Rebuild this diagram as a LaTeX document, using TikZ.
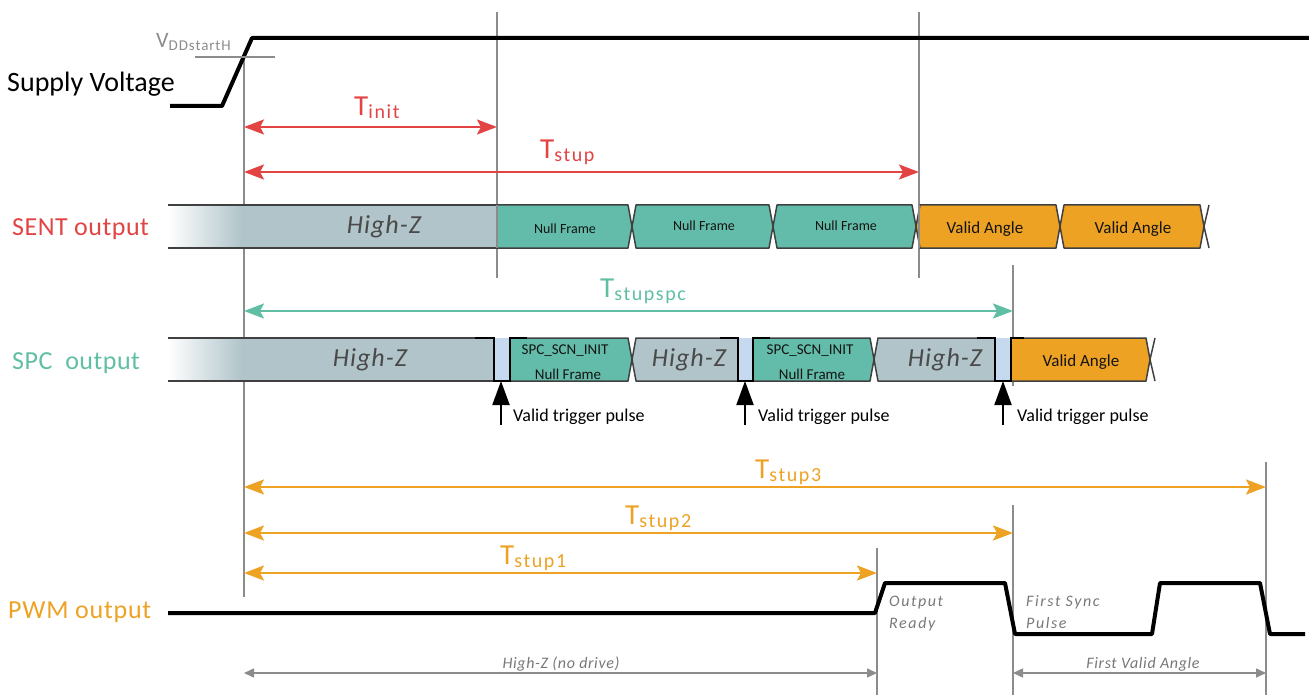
\documentclass[tikz,border=0pt]{standalone}
\usepackage{fontspec}
\setmainfont{Carlito}
\usetikzlibrary{arrows.meta}

\definecolor{tred}{RGB}{226,68,68}
\definecolor{tteal}{RGB}{96,190,165}
\definecolor{tgreen}{RGB}{99,188,169}
\definecolor{torange}{RGB}{237,162,36}
\definecolor{hzgray}{RGB}{176,196,202}
\definecolor{pulseblue}{RGB}{198,217,238}
\definecolor{edge}{RGB}{64,64,64}
\definecolor{guide}{RGB}{140,140,140}
\definecolor{note}{RGB}{120,120,120}
\definecolor{hztext}{RGB}{74,74,74}

\newcommand\fsz[1]{\fontsize{#1}{#1}\selectfont}
% T label with subscript
\newcommand\tlab[1]{{\fsz{29}T}\raisebox{-3pt}{\fsz{20}\addfontfeature{LetterSpace=8}#1}}

% bus segment, pointed on both ends: x1 x2 top bottom fill
\newcommand\segpp[5]{\filldraw[busedge,fill=#5] ({#1+4},#3) -- ({#2-4},#3) -- (#2,{(#3+#4)/2}) -- ({#2-4},#4) -- ({#1+4},#4) -- (#1,{(#3+#4)/2}) -- cycle;}
% bus segment, straight left end, pointed right end
\newcommand\segsp[5]{\filldraw[busedge,fill=#5] (#1,#3) -- ({#2-4},#3) -- (#2,{(#3+#4)/2}) -- ({#2-4},#4) -- (#1,#4) -- cycle;}
% high-Z segment, pointed left end, open right end
\newcommand\segpo[5]{\fill[#5] ({#1+4},#3) -- (#2,#3) -- (#2,#4) -- ({#1+4},#4) -- (#1,{(#3+#4)/2}) -- cycle;
  \draw[busedge] (#2,#3) -- ({#1+4},#3) -- (#1,{(#3+#4)/2}) -- ({#1+4},#4) -- (#2,#4);}

\tikzset{
  sig/.style={line width=4pt, line join=round, line cap=round, black},
  busedge/.style={draw=edge, line width=1.5pt, line join=round},
  guideline/.style={draw=guide, line width=1.5pt},
  redarrow/.style={draw=tred, line width=2.5pt, {Stealth[length=20pt,width=15pt,inset=4pt]}-{Stealth[length=20pt,width=15pt,inset=4pt]}},
  tealarrow/.style={redarrow, draw=tteal},
  orangearrow/.style={redarrow, draw=torange},
  grayarrow/.style={draw=guide, line width=1.5pt, {Triangle[length=10pt,width=9pt]}-{Triangle[length=10pt,width=9pt]}},
  trig/.style={draw=black, line width=2pt, -{Triangle[length=24pt,width=17pt]}},
  plabel/.style={anchor=base west, inner sep=0pt, font=\fsz{26}\addfontfeature{LetterSpace=2}},
  hz/.style={inner sep=0pt, font=\fsz{26}\itshape\addfontfeature{LetterSpace=4}, text=hztext},
  frame/.style={inner sep=0pt, font=\fsz{14}, text=black!92},
  angle/.style={inner sep=0pt, font=\fsz{17}, text=black!92},
  trigtext/.style={anchor=west, inner sep=0pt, font=\fsz{18}},
  notetext/.style={anchor=base west, inner sep=0pt, font=\fsz{16}\itshape\addfontfeature{LetterSpace=10}, text=note},
  spanlabel/.style={anchor=base, inner sep=0pt, font=\fsz{16}\itshape\addfontfeature{LetterSpace=4}, text=note},
}

\begin{document}
\begin{tikzpicture}[x=1pt, y=-1pt]
\useasboundingbox (0,0) rectangle (1309,695);

% ---------- time markers ----------
\draw[guideline] (244,57) -- (244,597);
\draw[guideline] (497,12) -- (497,278);
\draw[guideline] (919,12) -- (919,278);
\draw[guideline] (1013,265) -- (1013,386);
\draw[guideline] (1013,505) -- (1013,695);
\draw[guideline] (877,548) -- (877,695);
\draw[guideline] (1266,462) -- (1266,695);

% ---------- supply voltage ----------
\node[plabel, font=\fsz{28}] (supply) at (7,92) {Supply Voltage};
\draw[sig, line cap=butt] (170,106) -- (222,106) -- (252,38) -- (1309,38);
\draw[guideline] (195,57) -- (275,57);
\node[anchor=base west, inner sep=0pt, text=guide] (vdd) at (156,48)
  {{\fsz{22}V}\raisebox{-3pt}{\fsz{15}\addfontfeature{LetterSpace=6}DDstartH}};

% ---------- SENT output ----------
\node[plabel, text=tred] (sentlab) at (12,236) {SENT output};
\shade[left color=white, right color=hzgray] (168,205) rectangle (242,248);
\fill[hzgray] (241,205) rectangle (497,248);
\draw[busedge] (168,205) -- (497,205) (168,248) -- (497,248);
\node[hz] (senthz) at (384,227) {High-Z};
\segsp{497}{632}{205}{248}{tgreen}
\segpp{632}{773}{205}{248}{tgreen}
\segpp{773}{916}{205}{248}{tgreen}
\segpp{916}{1060}{205}{248}{torange}
\segpp{1060}{1204}{205}{248}{torange}
\draw[busedge] (1209,205) -- (1204,226.5) -- (1209,248);
\draw[guideline] (919,205) -- (919,248);
\draw[guideline] (497,205) -- (497,248);
\node[frame] (nf1) at (565,229) {Null Frame};
\node[frame] (nf2) at (704,226) {Null Frame};
\node[frame] (nf3) at (846,226) {Null Frame};
\node[angle] (va1) at (985,229) {Valid Angle};
\node[angle] (va2) at (1133,229) {Valid Angle};

% ---------- SPC output ----------
\node[plabel, text=tteal] (spclab) at (12,369) {SPC\ \ output};
\shade[left color=white, right color=hzgray] (168,338) rectangle (242,381);
\fill[hzgray] (241,338) rectangle (494,381);
\draw[busedge] (168,338) -- (476,338) (168,381) -- (494,381);
\node[hz] (spchz1) at (370,360) {High-Z};
% first trigger pulse
\fill[pulseblue] (494,338) rectangle (510,381);
\segsp{510}{632}{338}{381}{tgreen}
\draw[line width=2.5pt, line join=miter] (475,338) -- (494,338) -- (494,381) -- (510,381) -- (510,338) -- (527,338);
% second high-Z gap and pulse
\segpo{632}{738}{338}{381}{hzgray}
\fill[pulseblue] (738,338) rectangle (753,381);
\segsp{753}{874}{338}{381}{tgreen}
\draw[line width=2.5pt, line join=miter] (720,338) -- (738,338) -- (738,381) -- (753,381) -- (753,338) -- (770,338);
\node[hz] (spchz2) at (689,360) {High-Z};
% third high-Z gap and pulse
\segpo{874}{995}{338}{381}{hzgray}
\fill[pulseblue] (995,338) rectangle (1011,381);
\segsp{1011}{1150}{338}{381}{torange}
\draw[line width=2.5pt, line join=miter] (977,338) -- (995,338) -- (995,381) -- (1011,381) -- (1011,338) -- (1024,338);
\draw[busedge] (1155,338) -- (1150,359.5) -- (1155,381);
\node[hz] (spchz3) at (945,360) {High-Z};
\node[frame, font=\fsz{15}] (g1a) at (565,351) {SPC\_SCN\_INIT};
\node[frame, font=\fsz{15}] (g1b) at (568,374) {Null Frame};
\node[frame, font=\fsz{15}] (g2a) at (810,351) {SPC\_SCN\_INIT};
\node[frame, font=\fsz{15}] (g2b) at (812,374) {Null Frame};
\node[angle] (spcva) at (1081,362) {Valid Angle};

% trigger arrows
\coordinate (trg1) at (501,425); \coordinate (trg1t) at (501,381);
\coordinate (trg2) at (745,425); \coordinate (trg2t) at (745,381);
\coordinate (trg3) at (1003,425); \coordinate (trg3t) at (1003,381);
\draw[trig] (trg1) -- (trg1t);
\draw[trig] (trg2) -- (trg2t);
\draw[trig] (trg3) -- (trg3t);
\node[trigtext] (tp1) at (513,417) {Valid trigger pulse};
\node[trigtext] (tp2) at (758,417) {Valid trigger pulse};
\node[trigtext] (tp3) at (1017,417) {Valid trigger pulse};

% ---------- start-up intervals ----------
\coordinate (initL) at (244,127); \coordinate (initR) at (497,127);
\draw[redarrow] (initL) -- (initR);
\node[anchor=base west, inner sep=0pt, text=tred] (tinit) at (354,116) {\tlab{init}};

\coordinate (stupL) at (244,172); \coordinate (stupR) at (919,172);
\draw[redarrow] (stupL) -- (stupR);
\node[anchor=base west, inner sep=0pt, text=tred] (tstup) at (540,159) {\tlab{stup}};

\coordinate (spcL) at (244,311); \coordinate (spcR) at (1013,311);
\draw[tealarrow] (spcL) -- (spcR);
\node[anchor=base west, inner sep=0pt, text=tteal] (tstupspc) at (600,297) {\tlab{stupspc}};

\coordinate (s3L) at (244,487); \coordinate (s3R) at (1266,487);
\draw[orangearrow] (s3L) -- (s3R);
\node[anchor=base west, inner sep=0pt, text=torange] (tstup3) at (755,478) {\tlab{stup3}};

\coordinate (s2L) at (244,533); \coordinate (s2R) at (1013,533);
\draw[orangearrow] (s2L) -- (s2R);
\node[anchor=base west, inner sep=0pt, text=torange] (tstup2) at (625,524) {\tlab{stup2}};

\coordinate (s1L) at (244,573); \coordinate (s1R) at (877,573);
\draw[orangearrow] (s1L) -- (s1R);
\node[anchor=base west, inner sep=0pt, text=torange] (tstup1) at (500,564) {\tlab{stup1}};

% ---------- PWM output ----------
\node[plabel, font=\fsz{26}\addfontfeature{LetterSpace=3}, text=torange] (pwmlab) at (8,618) {PWM output};
\draw[sig, line cap=butt] (168,613) -- (875,613) -- (885,583) -- (1005,583) -- (1015,634)
  -- (1152,634) -- (1160,583) -- (1260,583) -- (1270,634) -- (1305,634);
\node[notetext] (ready1) at (889,606) {Output};
\node[notetext] (ready2) at (889,628) {Ready};
\node[notetext] (sync1) at (1026,606) {First Sync};
\node[notetext] (sync2) at (1026,628) {Pulse};

\coordinate (hzL) at (244,673); \coordinate (hzR) at (877,673);
\draw[grayarrow] (hzL) -- (hzR);
\node[spanlabel] (hzspan) at (561,668) {High-Z (no drive)};
\coordinate (fvL) at (1013,673); \coordinate (fvR) at (1266,673);
\draw[grayarrow] (fvL) -- (fvR);
\node[spanlabel] (fvspan) at (1143,668) {First Valid Angle};
\end{tikzpicture}
\end{document}
